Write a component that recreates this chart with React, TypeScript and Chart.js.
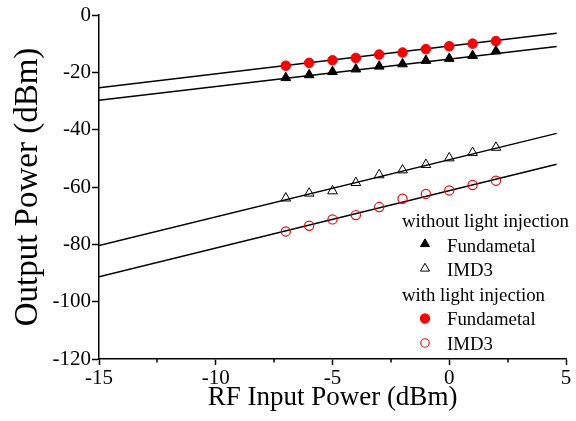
import React, { useEffect, useRef } from "react";
import { Chart, registerables } from "chart.js";

Chart.register(...registerables);

// ---- data ----
const xValues = [-7, -6, -5, -4, -3, -2, -1, 0, 1, 2];
const woFund = [-21.9, -20.9, -19.8, -18.9, -17.9, -17.1, -15.9, -15.2, -14.2, -12.6];
const woIMD3 = [-63.9, -62.2, -61.4, -58.5, -55.8, -54.1, -52.2, -49.9, -48.0, -46.2];
const wFund = [-17.7, -16.7, -15.8, -15.0, -13.8, -13.1, -11.9, -10.9, -10.0, -9.1];
const wIMD3 = [-75.5, -73.5, -71.3, -69.8, -67.0, -64.1, -62.4, -61.2, -59.3, -57.8];

const fitX = [-15, 4.6];
const wFundFit = [-25.4, -6.4];
const woFundFit = [-29.7, -11.0];
const woIMD3Fit = [-80.4, -41.3];
const wIMD3Fit = [-91.3, -52.1];

const xMinorTicks = [-12.5, -7.5, -2.5, 2.5];

const legendGroups = ["without light injection", "with light injection"];
const legendItems = ["Fundametal", "IMD3"];

const xTitle = "RF Input Power (dBm)";
const yTitle = "Output Power (dBm)";

const RED = "#ff0000";
const FONT = "'Liberation Serif', 'Times New Roman', serif";

const pts = (xs: number[], ys: number[]) => xs.map((x, i) => ({ x, y: ys[i] }));

export default function App() {
  const ref = useRef<HTMLCanvasElement>(null);

  useEffect(() => {
    const canvas = ref.current;
    if (!canvas) return;

    const minorTickPlugin = {
      id: "minorTicks",
      afterDraw(chart: any) {
        const c = chart.ctx as CanvasRenderingContext2D;
        const xs = chart.scales.x;
        c.save();
        c.strokeStyle = "#000";
        c.lineWidth = 1.5;
        xMinorTicks.forEach((v) => {
          const px = Math.round(xs.getPixelForValue(v));
          c.beginPath();
          c.moveTo(px, xs.top);
          c.lineTo(px, xs.top + 3.5);
          c.stroke();
        });
        c.restore();
      },
    };

    const legendPlugin = {
      id: "groupLegend",
      afterDraw(chart: any) {
        const c = chart.ctx as CanvasRenderingContext2D;
        c.save();
        c.font = `18.8px ${FONT}`;
        c.fillStyle = "#000";
        c.textBaseline = "alphabetic";
        c.textAlign = "left";
        const headerX = 402;
        const markerX = 425;
        const textX = 447;
        const baselines = [[226.5, 251.5, 275.5], [300.5, 325, 349.5]];
        const centers = [[244, 268.5], [318.5, 343]];
        legendGroups.forEach((g, gi) => {
          c.fillStyle = "#000";
          c.fillText(g, headerX, baselines[gi][0]);
          legendItems.forEach((it, ii) => {
            c.fillStyle = "#000";
            c.fillText(it, textX, baselines[gi][ii + 1]);
            const cy = centers[gi][ii];
            c.beginPath();
            if (gi === 0) {
              const r = 5.2;
              for (let k = 0; k < 3; k++) {
                const a = (k * 2 * Math.PI) / 3;
                const px = markerX + Math.sin(a) * r;
                const py = cy - Math.cos(a) * r;
                if (k === 0) c.moveTo(px, py);
                else c.lineTo(px, py);
              }
              c.closePath();
              c.lineWidth = 1;
              c.strokeStyle = "#000";
              if (ii === 0) {
                c.fillStyle = "#000";
                c.fill();
              }
              c.stroke();
            } else {
              c.arc(markerX, cy, ii === 0 ? 4.6 : 4.2, 0, Math.PI * 2);
              c.lineWidth = 1.1;
              c.strokeStyle = RED;
              if (ii === 0) {
                c.fillStyle = RED;
                c.fill();
              }
              c.stroke();
            }
          });
        });
        c.restore();
      },
    };

    const lineDs = (ys: number[]) => ({
      data: pts(fitX, ys),
      showLine: true,
      borderColor: "#000",
      borderWidth: 1.5,
      pointRadius: 0,
      pointHoverRadius: 0,
      order: 2,
    });

    const chart = new Chart(canvas, {
      type: "scatter",
      data: {
        datasets: [
          {
            data: pts(xValues, woFund),
            pointStyle: "triangle",
            pointRadius: 5.6,
            backgroundColor: "#000",
            borderColor: "#000",
            borderWidth: 1,
            order: 1,
          },
          {
            data: pts(xValues, woIMD3),
            pointStyle: "triangle",
            pointRadius: 5.6,
            backgroundColor: "rgba(0,0,0,0)",
            borderColor: "#000",
            borderWidth: 1,
            order: 1,
          },
          {
            data: pts(xValues, wFund),
            pointStyle: "circle",
            pointRadius: 4.8,
            backgroundColor: RED,
            borderColor: RED,
            borderWidth: 1,
            order: 1,
          },
          {
            data: pts(xValues, wIMD3),
            pointStyle: "circle",
            pointRadius: 4.6,
            backgroundColor: "rgba(0,0,0,0)",
            borderColor: RED,
            borderWidth: 1.2,
            order: 1,
          },
          lineDs(wFundFit),
          lineDs(woFundFit),
          lineDs(woIMD3Fit),
          lineDs(wIMD3Fit),
        ] as any,
      },
      options: {
        responsive: false,
        animation: false,
        layout: { padding: { top: 15, right: 10, left: 0, bottom: 0 } },
        plugins: {
          legend: { display: false },
          tooltip: { enabled: false },
        },
        scales: {
          x: {
            type: "linear",
            min: -15,
            max: 5,
            afterFit: (s: any) => {
              s.height = 62;
            },
            ticks: {
              stepSize: 5,
              autoSkip: false,
              maxRotation: 0,
              color: "#000",
              padding: 1,
              font: { family: FONT, size: 21 },
            },
            grid: {
              display: true,
              drawOnChartArea: false,
              drawTicks: true,
              tickLength: 6,
              tickWidth: 1.5,
              tickColor: "#000",
            },
            border: { display: true, color: "#000", width: 1.5 },
            title: {
              display: true,
              text: xTitle,
              color: "#000",
              font: { family: FONT, size: 27 },
              padding: { top: 0, bottom: 7 },
            },
          },
          y: {
            type: "linear",
            min: -120,
            max: 0,
            afterFit: (s: any) => {
              s.width = 99;
            },
            ticks: {
              stepSize: 20,
              color: "#000",
              padding: 1,
              font: { family: FONT, size: 21 },
            },
            grid: {
              display: true,
              drawOnChartArea: false,
              drawTicks: true,
              tickLength: 7,
              tickWidth: 1.5,
              tickColor: "#000",
            },
            border: { display: true, color: "#000", width: 1.5 },
            title: {
              display: true,
              text: yTitle,
              color: "#000",
              font: { family: FONT, size: 33 },
              padding: { top: 9, bottom: 0 },
            },
          },
        },
      },
      plugins: [minorTickPlugin, legendPlugin],
    } as any);

    return () => chart.destroy();
  }, []);

  return (
    <div style={{ position: "absolute", left: 0, top: 0, width: 576, height: 421, background: "#fff" }}>
      <canvas ref={ref} width={576} height={421} style={{ display: "block" }} />
    </div>
  );
}
